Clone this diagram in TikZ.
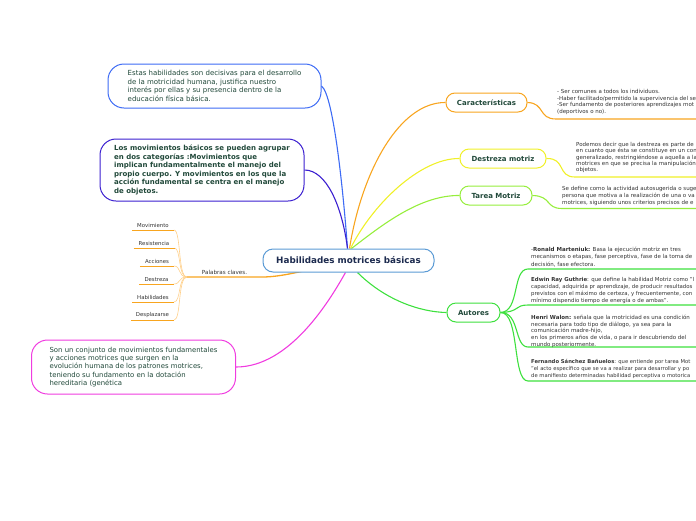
\documentclass[tikz,border=0pt]{standalone}
\usepackage{fontspec}
\setmainfont{DejaVu Sans}
\usetikzlibrary{backgrounds}
\definecolor{tgreen}{HTML}{21493A}
\definecolor{tnavy}{HTML}{1D2B4F}
\definecolor{tgray}{HTML}{333333}
\definecolor{cblue}{HTML}{5B9BD5}
\definecolor{bblue}{HTML}{3D6BF5}
\definecolor{bviolet}{HTML}{3B1FD0}
\definecolor{bmag}{HTML}{F03CE0}
\definecolor{corange}{HTML}{F8A51F}
\definecolor{lorange}{HTML}{FFD08A}
\definecolor{cyellow}{HTML}{F0F028}
\definecolor{clgreen}{HTML}{96EE3C}
\definecolor{cgreen}{HTML}{3EE03E}
\begin{document}
\begin{tikzpicture}[x=1pt,y=-1pt,
  bigbox/.style={draw, line width=1pt, rounded corners=16pt, fill=white, align=left,
    text=tgreen, font=\fontsize{7}{8.7}\selectfont, inner sep=0pt},
  pill/.style={draw, line width=1pt, rounded corners=9pt, fill=white, text=tgreen,
    font=\bfseries\fontsize{7}{8}\selectfont, inner sep=0pt, minimum height=19pt},
  detail/.style={align=left, text=tgray, font=\fontsize{5.5}{6.6}\selectfont, inner sep=0pt, anchor=north west},
  leaf/.style={text=tgray, font=\fontsize{5.4}{6}\selectfont, inner xsep=5pt, inner ysep=2.5pt, anchor=south},
  edge/.style={line width=1.1pt},
  uline/.style={line width=1.3pt},
  dline/.style={line width=1.1pt}
]
\useasboundingbox (0,0) rectangle (696,520);
\clip (0,0) rectangle (696,520);

% central node
\node[draw=cblue, line width=1pt, rounded corners=10pt, fill=white, text=tnavy,
  font=\bfseries\fontsize{8.8}{10}\selectfont, minimum width=171pt, minimum height=23pt, inner sep=0pt]
  (center) at (348.5,260.5) {Habilidades motrices básicas};

% big boxes
\node[bigbox, draw=bblue, minimum width=213pt, minimum height=44pt]
  (box1) at (214.5,86) {Estas habilidades son decisivas para el desarrollo\\de la motricidad humana, justifica nuestro\\interés por ellas y su presencia dentro de la\\educación física básica.};
\node[bigbox, draw=bviolet, minimum width=204pt, minimum height=62pt,
  font=\bfseries\fontsize{7}{8.5}\selectfont]
  (box2) at (202,170) {Los movimientos básicos se pueden agrupar\\en dos categorías :Movimientos que\\implican fundamentalmente el manejo del\\propio cuerpo. Y movimientos en los que la\\acción fundamental se centra en el manejo\\de objetos.};
\node[bigbox, draw=bmag, minimum width=204pt, minimum height=54pt,
  font=\fontsize{6.9}{8.3}\selectfont]
  (box3) at (133.5,367) {Son un conjunto de movimientos fundamentales\\y acciones motrices que surgen en la\\evolución humana de los patrones motrices,\\teniendo su fundamento en la dotación\\hereditaria (genética};

% right pills
\node[pill, draw=corange, minimum width=81pt] (car) at (486.5,102.5) {Características};
\node[pill, draw=cyellow, minimum width=86pt] (des) at (503,158.5) {Destreza motriz};
\node[pill, draw=clgreen, minimum width=72pt] (tar) at (496,195.5) {Tarea Motriz};
\node[pill, draw=cgreen, minimum width=53pt] (aut) at (473.5,312.5) {Autores};

% details
\node[detail, font=\fontsize{5.5}{6.7}\selectfont] (card) at (557,89) {- Ser comunes a todos los individuos.\\-Haber facilitado/permitido la supervivencia del se\\-Ser fundamento de posteriores aprendizajes mot\\(deportivos o no).};
\node[detail, font=\fontsize{5.5}{6.4}\selectfont] (desd) at (576,142) {Podemos decir que la destreza es parte de\\en cuanto que ésta se constituye en un con\\generalizado, restringiéndose a aquella a la\\motrices en que se precisa la manipulación\\objetos.};
\node[detail, font=\fontsize{5.5}{7}\selectfont] (tard) at (562,186) {Se define como la actividad autosugerida o suge\\persona que motiva a la realización de una o va\\motrices, siguiendo unos criterios precisos de e};
\node[detail, font=\fontsize{5.5}{7.5}\selectfont] (a1) at (531,246.5) {-\textbf{Ronald Marteniuk:} Basa la ejecución motriz en tres\\mecanismos o etapas, fase perceptiva, fase de la toma de\\decisión, fase efectora.};
\node[detail, font=\fontsize{5.4}{7}\selectfont] (a2) at (531,277) {\textbf{Edwin Ray Guthrie}: que define la habilidad Motriz como "l\\capacidad, adquirida pr aprendizaje, de producir resultados\\previstos con el máximo de certeza, y frecuentemente, con\\mínimo dispendio tiempo de energía o de ambas".};
\node[detail, font=\fontsize{5.5}{6.6}\selectfont] (a3) at (531,315) {\textbf{Henri Walon:} señala que la motricidad es una condición\\necesaria para todo tipo de diálogo, ya sea para la\\comunicación madre-hijo,\\en los primeros años de vida, o para ir descubriendo del\\mundo posteriormente.};
\node[detail, font=\fontsize{5.25}{7}\selectfont] (a4) at (531,359) {\textbf{Fernando Sánchez Bañuelos}: que entiende por tarea Mot\\"el acto específico que se va a realizar para desarrollar y po\\de manifiesto determinadas habilidad perceptiva o motorica};

% palabras claves
\node[text=tgray, font=\fontsize{5.6}{6}\selectfont, inner sep=0pt, minimum width=75pt, minimum height=9pt, anchor=south]
  (pk) at (224.5,277) {Palabras claves.};
\node[leaf] (l1) at (153,230) {Movimiento};
\node[leaf] (l2) at (154,248) {Resistencia};
\node[leaf] (l3) at (157,266) {Acciones};
\node[leaf] (l4) at (156.5,284) {Destreza};
\node[leaf] (l5) at (153,302) {Habilidades};
\node[leaf] (l6) at (152.5,320) {Desplazarse};

\coordinate (ecar) at (700,119);
\coordinate (edes) at (700,177);
\coordinate (etar) at (700,208.5);
\coordinate (ea1) at (700,269);
\coordinate (ea2) at (700,305);
\coordinate (ea3) at (700,347);
\coordinate (ea4) at (700,381);

\begin{pgfonlayer}{background}
% main edges
\draw[edge, bblue] (box1.east) .. controls (334,95) and (344,200) .. ([xshift=-1pt]center.north);
\draw[edge, bviolet] (box2.east) .. controls (326,170) and (342,205) .. ([xshift=-1pt]center.north);
\draw[edge, bmag] (box3.east) .. controls (290,367) and (330,300) .. ([xshift=-3pt]center.south);
\draw[edge, corange] ([xshift=1pt]center.north) .. controls (362,170) and (400,102) .. (car.west);
\draw[edge, cyellow] ([xshift=2pt]center.north) .. controls (372,205) and (420,158) .. (des.west);
\draw[edge, clgreen] ([xshift=3pt]center.north) .. controls (382,225) and (420,195) .. (tar.west);
\draw[edge, cgreen] ([xshift=9pt]center.south) .. controls (385,300) and (420,312) .. (aut.west);
\draw[uline, corange] (center.center) .. controls (300,272) and (280,277) .. (pk.south east) -- (pk.south west);
% leaves
\foreach \l in {l1,l2,l3,l4,l5,l6}{
  \draw[lorange, line width=0.6pt] (\l.south east) .. controls (181,0|-\l.south east) and (178,277) .. (pk.south west);
  \draw[uline, corange, line width=1pt] (\l.south west) -- (\l.south east);
}
% detail connectors
\draw[dline, corange] (car.east) .. controls (545,103) and (538,119) .. (556,119) -- (ecar);
\draw[dline, cyellow] (des.east) .. controls (566,158) and (557,177) .. (575,177) -- (edes);
\draw[dline, clgreen] (tar.east) .. controls (552,196) and (545,208.5) .. (562,208.5) -- (etar);
\draw[dline, cgreen] (aut.east) .. controls (520,312) and (512,269) .. (528,269) -- (ea1);
\draw[dline, cgreen] (aut.east) .. controls (520,312) and (514,305) .. (528,305) -- (ea2);
\draw[dline, cgreen] (aut.east) .. controls (520,312) and (514,347) .. (528,347) -- (ea3);
\draw[dline, cgreen] (aut.east) .. controls (520,312) and (512,381) .. (528,381) -- (ea4);
\end{pgfonlayer}
\end{tikzpicture}
\end{document}
